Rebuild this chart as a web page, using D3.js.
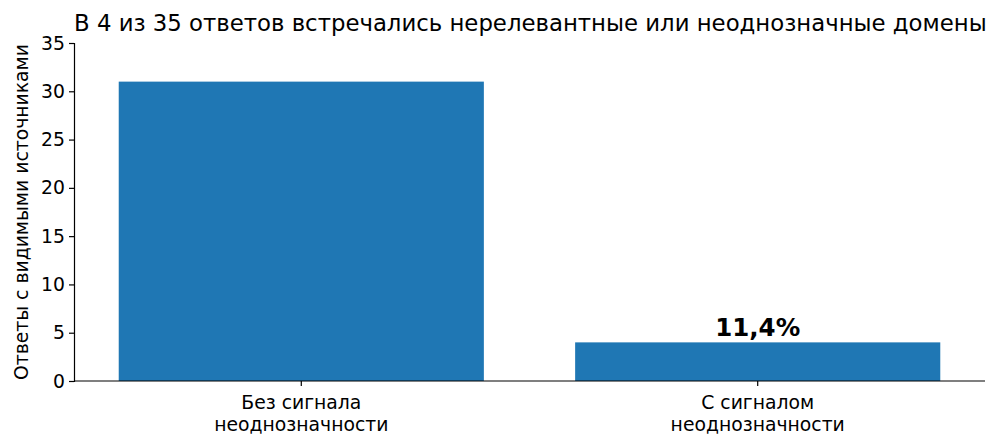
<!DOCTYPE html>
<html>
<head>
<meta charset="utf-8">
<script src="https://cdn.jsdelivr.net/npm/d3@7"></script>
<style>
  html, body { margin: 0; padding: 0; background: #fff; }
  svg { display: block; font-family: "DejaVu Sans", sans-serif; }
</style>
</head>
<body>
<svg id="chart" width="1000" height="447"></svg>
<script>
const categories = [['Без сигнала', 'неоднозначности'], ['С сигналом', 'неоднозначности']];
const values = [31, 4];
const yTicks = [0, 5, 10, 15, 20, 25, 30, 35];
const barLabels = [null, '11,4%'];
const title = 'В 4 из 35 ответов встречались нерелевантные или неоднозначные домены';
const yLabel = 'Ответы с видимыми источниками';

const W = 1000, H = 447;
const m = { left: 74, right: 15, top: 43, bottom: 66 };
const svg = d3.select('#chart');

const x = d3.scaleBand()
  .domain(d3.range(values.length))
  .range([m.left, W - m.right])
  .paddingInner(0.2)
  .paddingOuter(0.098);

const y = d3.scaleLinear()
  .domain([0, 35])
  .range([H - m.bottom, m.top]);

// bars
svg.append('g').selectAll('rect')
  .data(values)
  .join('rect')
  .attr('x', (d, i) => x(i))
  .attr('width', x.bandwidth())
  .attr('y', d => y(d))
  .attr('height', d => y(0) - y(d))
  .attr('fill', '#1f77b4');

// value labels
svg.append('g').selectAll('text')
  .data(values.map((v, i) => ({ v, i, t: barLabels[i] })).filter(d => d.t))
  .join('text')
  .attr('x', d => x(d.i) + x.bandwidth() / 2)
  .attr('y', d => y(d.v) - 6)
  .attr('text-anchor', 'middle')
  .attr('font-size', 24.5)
  .attr('font-weight', 'bold')
  .attr('fill', '#000')
  .text(d => d.t);

// y axis
const yAxis = svg.append('g')
  .attr('transform', `translate(${m.left},0)`)
  .call(d3.axisLeft(y).tickValues(yTicks).tickSize(5).tickPadding(4));
yAxis.select('.domain').attr('stroke', '#000').attr('stroke-width', 1.2);
yAxis.selectAll('.tick line').attr('stroke', '#000').attr('stroke-width', 1.2);
yAxis.selectAll('.tick text').attr('font-size', 18.8).attr('fill', '#000')
  .attr('font-family', '"DejaVu Sans", sans-serif');

// x axis
const xAxis = svg.append('g')
  .attr('transform', `translate(0,${y(0)})`)
  .call(d3.axisBottom(x).tickSize(5).tickFormat(() => ''));
xAxis.select('.domain').attr('stroke', '#000').attr('stroke-width', 1.2)
  .attr('d', `M${m.left},0H${W - m.right}`);
xAxis.selectAll('.tick line').attr('stroke', '#000').attr('stroke-width', 1.2);
xAxis.selectAll('.tick text').remove();
xAxis.selectAll('.tick').append('text')
  .attr('fill', '#000')
  .attr('font-size', 18.8)
  .attr('font-family', '"DejaVu Sans", sans-serif')
  .attr('text-anchor', 'middle')
  .selectAll('tspan')
  .data(i => categories[i])
  .join('tspan')
  .attr('x', 0)
  .attr('y', (d, j) => 28 + j * 22)
  .text(d => d);

// title
svg.append('text')
  .attr('x', m.left)
  .attr('y', 31)
  .attr('font-size', 22.8)
  .attr('fill', '#000')
  .text(title);

// y label
svg.append('text')
  .attr('transform', `translate(28,${(m.top + H - m.bottom) / 2}) rotate(-90)`)
  .attr('text-anchor', 'middle')
  .attr('font-size', 18.8)
  .attr('fill', '#000')
  .text(yLabel);
</script>
</body>
</html>
